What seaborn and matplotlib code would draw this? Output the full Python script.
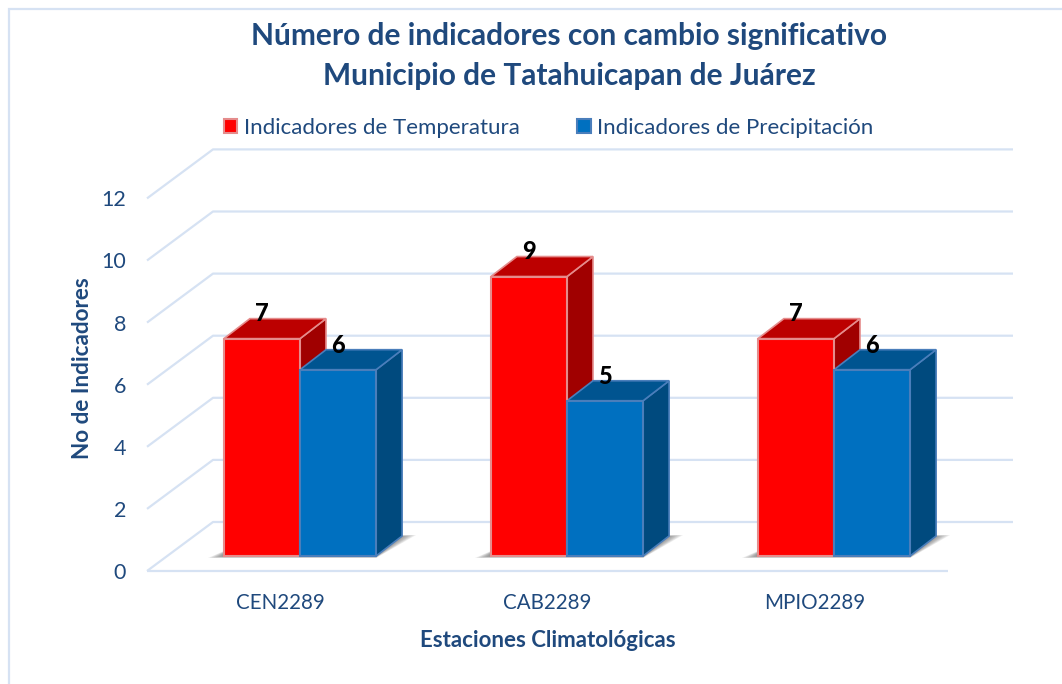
import matplotlib
matplotlib.use("Agg")
import matplotlib.pyplot as plt
from matplotlib.patches import Polygon, Rectangle
import pandas as pd
import seaborn as sns

estaciones = ["CEN2289", "CAB2289", "MPIO2289"]
temperatura = [7, 9, 7]
precipitacion = [6, 5, 6]
serie_t = "Indicadores de Temperatura"
serie_p = "Indicadores de Precipitación"
yticks = [0, 2, 4, 6, 8, 10, 12]

W, H = 1062, 684
NAVY = "#1F497D"
GRID = "#D6E2F3"
PAL = {serie_t: "#FF0000", serie_p: "#0070C0"}
TOP = {serie_t: "#BC0000", serie_p: "#005490"}
SIDE = {serie_t: "#A00000", serie_p: "#004A7E"}
EDGE = {serie_t: "#E58C8C", serie_p: "#4A7EBB"}

sns.set_theme(style="white")
plt.rcParams["font.family"] = ["Lato", "DejaVu Sans"]

df = pd.DataFrame({
    "est": estaciones * 2,
    "val": temperatura + precipitacion,
    "serie": [serie_t] * 3 + [serie_p] * 3,
})

fig = plt.figure(figsize=(W / 100, H / 100), dpi=100, facecolor="white")

def rect(l, t, r, b):
    return [l / W, 1 - b / H, (r - l) / W, (b - t) / H]

# border
fig.add_artist(Rectangle((9 / W, -0.01), (W + 20) / W, 1 - 9 / H + 0.01, transform=fig.transFigure,
                         fc="none", ec=GRID, lw=1.6))

# front plane axes (ticks and grid)
ax = fig.add_axes(rect(147, 198.4, 948, 571))
ax.set_xlim(-0.5, 2.5)
ax.set_ylim(0, 12)
ax.patch.set_alpha(0)
for s in ax.spines.values():
    s.set_visible(False)
ax.set_xticks(range(3), estaciones)
ax.set_yticks(yticks)
ax.tick_params(axis="x", length=0, labelsize=14.8, labelcolor=NAVY, pad=16)
ax.tick_params(axis="y", length=0, labelsize=15.5, labelcolor=NAVY, pad=15)
ax.set_xlabel("Estaciones Climatológicas", fontsize=16, fontweight="bold", color=NAVY, labelpad=12)
ax.set_ylabel("No de Indicadores", fontsize=16.2, fontweight="bold", color=NAVY)
ax.yaxis.set_label_coords(-0.0674, 0.545)

xu = 3 / 801       # data units per pixel, x
yu = 12 / 372.6    # data units per pixel, y
wall_x, wall_y = 66 * xu, 49 * yu
gk = dict(color=GRID, lw=1.6, clip_on=False, solid_capstyle="butt")
for v in yticks:
    ax.plot([-0.5, -0.5 + wall_x, 2.5 + wall_x - 1 * xu],
            [v, v + wall_y, v + wall_y], **gk)
ax.plot([-0.5, 2.5], [0, 0], **gk)

# bars axes
axb = fig.add_axes(rect(166.5, 183.4, 967.5, 556))
axb.patch.set_alpha(0)
sns.barplot(data=df, x="est", y="val", hue="serie", order=estaciones,
            hue_order=[serie_t, serie_p], palette=PAL, width=0.57, gap=0,
            saturation=1, ax=axb, legend=True, zorder=3)
axb.set_xlim(-0.5, 2.5)
axb.set_ylim(0, 12)
axb.axis("off")
handles, labels = axb.get_legend_handles_labels()
axb.get_legend().remove()

dx, dy = 26 * xu, 20 * yu

# shadow under each group
for i in range(3):
    x0 = axb.containers[0][i].get_x()
    x1 = axb.containers[1][i].get_x() + axb.containers[1][i].get_width()
    for k in range(8):
        g = k * 2.0
        axb.add_patch(Polygon(
            [(x0 - (16 - g) * xu, (-2 + k * 0.2) * yu), (x1, (-2 + k * 0.2) * yu),
             (x1 + dx + (14 - g) * xu, dy + (1 - k * 0.2) * yu),
             (x1 + dx, dy + (1 - k * 0.2) * yu), (x0, (5 - k * 0.3) * yu)],
            closed=True, fc="#404040", ec="none", alpha=0.09, zorder=1, clip_on=False))

# depth faces and labels
for name, cont in zip([serie_t, serie_p], axb.containers):
    for b in cont:
        x0, w, h = b.get_x(), b.get_width(), b.get_height()
        b.set_edgecolor(EDGE[name])
        b.set_linewidth(1.5)
        b.set_clip_on(False)
        b.set_zorder(4)
        axb.add_patch(Polygon([(x0 + w, 0), (x0 + w + dx, dy), (x0 + w + dx, h + dy), (x0 + w, h)],
                              closed=True, fc=SIDE[name], ec=EDGE[name], lw=1.2, zorder=2.5, clip_on=False))
        axb.add_patch(Polygon([(x0, h), (x0 + dx, h + dy), (x0 + w + dx, h + dy), (x0 + w, h)],
                              closed=True, fc=TOP[name], ec=EDGE[name], lw=1.2, zorder=2.5, clip_on=False))
    axb.bar_label(cont, padding=9.5, fontsize=17, fontweight="black", color="black", zorder=6)

for h in handles:
    h.set_edgecolor(EDGE[serie_t] if h.get_facecolor()[1] == 0 else EDGE[serie_p])
    h.set_linewidth(1.5)
fig.legend(handles, labels, loc="center", bbox_to_anchor=(548.5 / W, 1 - 128 / H), ncol=2, frameon=False,
           fontsize=16, labelcolor=NAVY, handlelength=0.62, handleheight=0.62, handletextpad=0.28,
           columnspacing=2.6)

fig.text(569 / W, 1 - 35.5 / H, "Número de indicadores con cambio significativo", ha="center", va="center",
         fontsize=21.5, fontweight="bold", color=NAVY)
fig.text(569 / W, 1 - 75.5 / H, "Municipio de Tatahuicapan de Juárez", ha="center", va="center",
         fontsize=21.5, fontweight="bold", color=NAVY)

fig.savefig("out.png", dpi=100)
